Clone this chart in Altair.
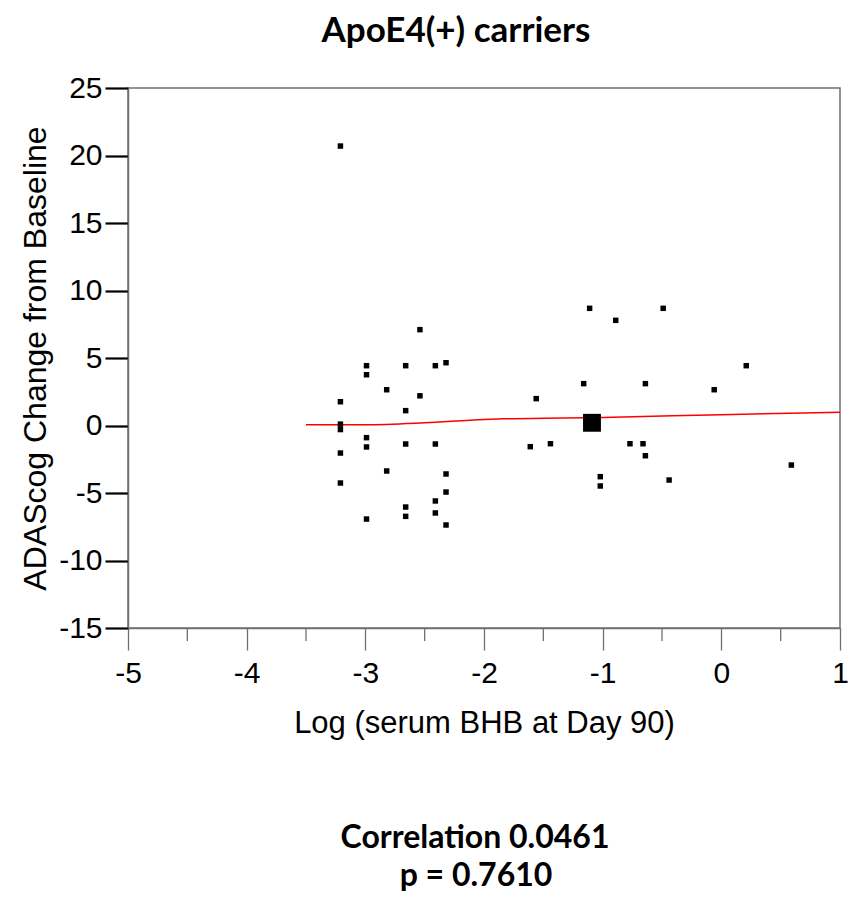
import altair as alt
import pandas as pd

# Scatter data: log(serum BHB at Day 90) vs ADAScog change
x_vals = [-3.21, -2.54, -2.99, -2.99, -2.66, -2.41, -2.32, -2.82, -2.54, -3.21,
          -2.66, -3.21, -3.21, -2.99, -2.99, -2.66, -2.41, -3.21, -2.82, -2.32,
          -3.21, -2.32, -2.41, -2.66, -2.66, -2.41, -2.99, -2.32,
          -1.11, -0.49, -0.89, 0.21, -1.16, -0.64, -0.06, -1.56, -1.61, -1.44,
          -0.77, -0.66, -0.64, 0.59, -1.02, -1.02, -0.44]
y_vals = [20.7, 7.1, 4.43, 3.76, 4.43, 4.43, 4.65, 2.65, 2.2, 1.76,
          1.1, 0.1, -0.3, -0.9, -1.59, -1.37, -1.37, -2.04, -3.37, -3.59,
          -4.26, -4.93, -5.59, -6.04, -6.73, -6.48, -6.93, -7.37,
          8.68, 8.68, 7.79, 4.43, 3.1, 3.1, 2.65, 1.99, -1.57, -1.35,
          -1.35, -1.35, -2.24, -2.93, -3.79, -4.48, -4.04]

# Mean point
mean_x = [-1.09]
mean_y = [0.2]

# Smooth fit line
fit_x = [-3.5, -3.0, -2.5, -2.0, -1.8, -1.0, 0.0, 1.0]
fit_y = [0.05, 0.05, 0.2, 0.45, 0.5, 0.6, 0.8, 0.98]

x_ticks = [-5, -4, -3, -2, -1, 0, 1]
y_ticks = [-15, -10, -5, 0, 5, 10, 15, 20, 25]
minor_ticks = [-4.5, -3.5, -2.5, -1.5, -0.5, 0.5]

title_text = "ApoE4(+) carriers"
footer_lines = ["Correlation 0.0461", "p = 0.7610"]

W, H = 712, 540

pts = pd.DataFrame({"x": x_vals, "y": y_vals})
mean_df = pd.DataFrame({"x": mean_x, "y": mean_y})
fit_df = pd.DataFrame({"x": fit_x, "y": fit_y})
minor_df = pd.DataFrame({"x": minor_ticks})

xscale = alt.Scale(domain=[-5, 1], nice=False, zero=False)
yscale = alt.Scale(domain=[-15, 25], nice=False, zero=False)

xaxis = alt.Axis(values=x_ticks, labelExpr="toString(datum.value)", grid=False,
                 tickSize=22, tickColor="#707070", tickWidth=1.3,
                 domainColor="#707070", domainWidth=1.5,
                 labelFont="Liberation Sans", labelFontSize=30,
                 labelColor="black", labelPadding=8, labelFlush=False,
                 title="Log (serum BHB at Day 90)", titleFont="Liberation Sans",
                 titleFontSize=31, titleFontWeight="normal", titleColor="black",
                 titlePadding=20)
yaxis = alt.Axis(values=y_ticks, labelExpr="toString(datum.value)", grid=False,
                 tickSize=23, tickColor="black", tickWidth=2.2,
                 domainColor="#707070", domainWidth=1.5,
                 labelFont="Liberation Sans", labelFontSize=30, labelColor="black",
                 labelPadding=3, labelFlush=False,
                 title="ADAScog Change from Baseline", titleFont="Liberation Sans",
                 titleFontSize=32, titleFontWeight="normal", titleColor="black",
                 titlePadding=6)

points = alt.Chart(pts).mark_square(size=30, color="black", opacity=1).encode(
    x=alt.X("x:Q", scale=xscale, axis=xaxis),
    y=alt.Y("y:Q", scale=yscale, axis=yaxis),
)

mean_pt = alt.Chart(mean_df).mark_square(size=320, color="black", opacity=1).encode(
    x=alt.X("x:Q", scale=xscale),
    y=alt.Y("y:Q", scale=yscale),
)

fit = alt.Chart(fit_df).mark_line(color="red", strokeWidth=1.5, interpolate="monotone").encode(
    x=alt.X("x:Q", scale=xscale),
    y=alt.Y("y:Q", scale=yscale),
)

minor = alt.Chart(minor_df).mark_rule(color="#707070", strokeWidth=1.3).encode(
    x=alt.X("x:Q", scale=xscale),
    y=alt.value(H),
    y2=alt.value(H + 13),
)

def text_layer(txt, x, y, size):
    return alt.Chart(pd.DataFrame({"t": [txt]})).mark_text(
        font="Lato", fontSize=size, fontWeight="bold", color="black",
        align="center", baseline="alphabetic").encode(
        text="t:N", x=alt.value(x), y=alt.value(y))

title = text_layer(title_text, 328, -46, 35)
foot1 = text_layer(footer_lines[0], 347, 760, 32)
foot2 = text_layer(footer_lines[1], 348, 798, 32)

chart = alt.layer(minor, fit, points, mean_pt, title, foot1, foot2).properties(
    width=W, height=H,
    autosize=alt.AutoSizeParams(type="none"),
    padding={"left": 120, "top": 80, "right": 8, "bottom": 275},
).configure_view(stroke="#707070", strokeWidth=1.5)

chart.save("out.html", embed_options={"renderer": "svg", "actions": False})
